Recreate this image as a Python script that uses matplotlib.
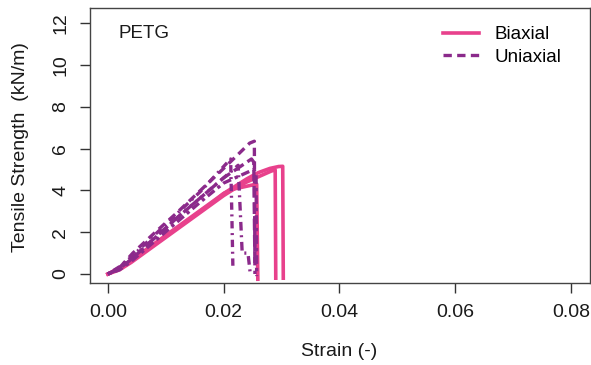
import matplotlib
matplotlib.use("Agg")
import matplotlib.pyplot as plt

plt.rcParams["font.family"] = ["Liberation Sans", "DejaVu Sans"]

# Biaxial curves (strain, tensile strength kN/m)
b1_x = [0, 0.002, 0.004, 0.006, 0.008, 0.010, 0.012, 0.014, 0.016, 0.018, 0.020, 0.022, 0.024, 0.026, 0.028, 0.0295, 0.0302, 0.0303]
b1_y = [0, 0.25, 0.6, 1.0, 1.4, 1.8, 2.2, 2.6, 3.0, 3.4, 3.85, 4.2, 4.55, 4.85, 5.05, 5.14, 5.15, -0.2]
b2_x = [0, 0.002, 0.004, 0.006, 0.008, 0.010, 0.012, 0.014, 0.016, 0.018, 0.020, 0.022, 0.024, 0.026, 0.0282, 0.0289, 0.0290]
b2_y = [0, 0.2, 0.55, 0.95, 1.35, 1.75, 2.15, 2.55, 2.95, 3.35, 3.75, 4.1, 4.4, 4.65, 4.92, 4.98, -0.2]
b3_x = [0, 0.002, 0.004, 0.006, 0.008, 0.010, 0.012, 0.014, 0.016, 0.018, 0.020, 0.0215, 0.0257, 0.0259]
b3_y = [0, 0.3, 0.65, 1.05, 1.45, 1.85, 2.25, 2.65, 3.05, 3.45, 3.85, 4.05, 4.3, -0.25]

# Uniaxial curves
u1_x = [0, 0.002, 0.0043, 0.008, 0.012, 0.016, 0.020, 0.0245, 0.0253, 0.0254]
u1_y = [0, 0.3, 1.0, 1.95, 2.95, 4.0, 5.05, 6.26, 6.35, 0.0]
u2_x = [0, 0.002, 0.004, 0.008, 0.012, 0.016, 0.0212, 0.0214, 0.0216]
u2_y = [0, 0.35, 0.8, 1.85, 2.9, 3.95, 5.5, 3.0, 0.2]
u3_x = [0, 0.002, 0.004, 0.008, 0.012, 0.016, 0.020, 0.0248, 0.0252, 0.0254]
u3_y = [0, 0.25, 0.7, 1.7, 2.7, 3.65, 4.6, 5.5, 5.35, 0.3]
u4_x = [0, 0.002, 0.004, 0.008, 0.012, 0.016, 0.020, 0.0225, 0.0232, 0.0242, 0.0246]
u4_y = [0, 0.3, 0.75, 1.7, 2.7, 3.65, 4.6, 5.2, 1.0, 1.0, 0.0]
u5_x = [0, 0.002, 0.004, 0.008, 0.012, 0.016, 0.020, 0.0252, 0.0256, 0.0257]
u5_y = [0, 0.2, 0.6, 1.55, 2.5, 3.45, 4.35, 5.0, 4.8, -0.1]

x_ticks = [0.00, 0.02, 0.04, 0.06, 0.08]
x_labels = ["0.00", "0.02", "0.04", "0.06", "0.08"]
y_ticks = [0, 2, 4, 6, 8, 10, 12]

pink = "#E8418C"
purple = "#8B2A8B"

fig = plt.figure(figsize=(5.91, 3.65), dpi=100)
ax = fig.add_axes([90 / 591, 82 / 365, 500 / 591, 275 / 365])

lw = 2.6
for bx, by in [(b1_x, b1_y), (b2_x, b2_y), (b3_x, b3_y)]:
    ax.plot(bx, by, color=pink, lw=lw, solid_joinstyle="round")

plw = 2.4
ax.plot(u1_x, u1_y, color=purple, lw=plw, dashes=(2.5, 1.6))
ax.plot(u2_x, u2_y, color=purple, lw=plw, dashes=(0.6, 1.4, 2.2, 1.4))
ax.plot(u3_x, u3_y, color=purple, lw=plw, dashes=(3.5, 1.4))
ax.plot(u4_x, u4_y, color=purple, lw=plw, dashes=(0.6, 1.4, 2.6, 1.4))
ax.plot(u5_x, u5_y, color=purple, lw=plw, dashes=(1, 1.2, 2.6, 1.2))

ax.set_xlim(-0.0031, 0.0833)
ax.set_ylim(-0.43, 12.72)
ax.set_xticks(x_ticks)
ax.set_xticklabels(x_labels)
ax.set_yticks(y_ticks)
ax.set_yticklabels([str(v) for v in y_ticks], rotation=90, va="center")
ax.tick_params(length=7, width=1, pad=8, labelsize=14, colors="#333333", labelcolor="#1a1a1a")
for s in ax.spines.values():
    s.set_color("#444444")
    s.set_linewidth(1)

fig.text(21 / 591, 1 - 147 / 365, "Tensile Strength  (kN/m)", rotation=90,
         ha="center", va="center", fontsize=14, color="#1a1a1a")
fig.text(339 / 591, 1 - 352 / 365, "Strain (-)", ha="center", va="center",
         fontsize=14, color="#1a1a1a")
ax.text(118 / 591, 1 - 33 / 365, "PETG", transform=fig.transFigure,
        ha="left", va="center", fontsize=13.5, color="#1a1a1a")

h1, = ax.plot([], [], color=pink, lw=lw)
h2, = ax.plot([], [], color=purple, lw=plw, dashes=(2.5, 1.6))
ax.legend([h1, h2], ["Biaxial", "Uniaxial"], loc="upper left",
          bbox_to_anchor=(443 / 591, 1 - 26 / 365), bbox_transform=fig.transFigure,
          frameon=False, fontsize=13.5, handlelength=1.9, handletextpad=0.85,
          borderpad=0, borderaxespad=0, labelspacing=0.3)

fig.savefig("out.png", dpi=100)
